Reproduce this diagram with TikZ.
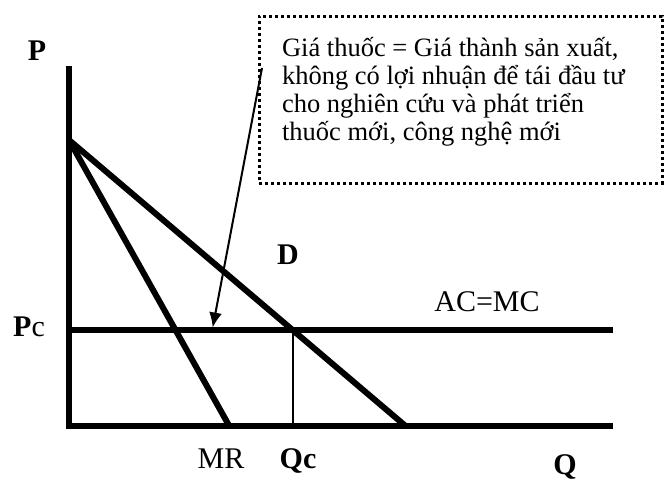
\documentclass[tikz,border=0pt]{standalone}
\usepackage{fontspec}
\setmainfont{Liberation Serif}
\usetikzlibrary{arrows.meta}

\tikzset{
  curve/.style={line width=6pt, line cap=butt},
  thinline/.style={line width=2pt},
  axislabel/.style={font=\fontsize{30}{34}\selectfont\bfseries, anchor=base, inner sep=0pt},
  curvelabel/.style={font=\fontsize{30}{34}\selectfont, anchor=base, inner sep=0pt},
  notebox/.style={draw, line width=3pt, dash pattern=on 3pt off 3pt, inner sep=0pt,
                  minimum width=403pt, minimum height=167pt},
}

\begin{document}
\begin{tikzpicture}[x=1pt, y=-1pt]
    % frame = reference size (671 x 483)
    \useasboundingbox (0,0) rectangle (671,483);

    % axes and key points
    \coordinate (top)    at (69,66);
    \coordinate (origin) at (69,425.5);
    \coordinate (qend)   at (613,425.5);
    \coordinate (pc)     at (69,329.5);
    \coordinate (pcend)  at (613,329.5);
    \coordinate (pmax)   at (69,140);
    \coordinate (dend)   at (405,425.5);
    \coordinate (mrend)  at (229,425.5);
    \coordinate (eq)     at (293,329.5);
    \coordinate (qc)     at (293,425.5);

    \draw[curve, line join=miter] (top) -- (origin) -- (qend);
    \draw[curve] (pc) -- (pcend);
    \draw[curve] (pmax) -- (dend);
    \draw[curve] (pmax) -- (mrend);
    \draw[thinline] (eq) -- (qc);

    % labels
    \node[axislabel] (plabel)  at (37,60) {P};
    \node[axislabel] (pclabel) at (29,336) {P\mdseries c};
    \node[axislabel] (dlabel)  at (288,264) {D};
    \node[axislabel] (qclabel) at (298,468) {Qc};
    \node[axislabel] (qlabel)  at (565,474) {Q};
    \node[curvelabel] (mrlabel) at (221,468) {MR};
    \node[curvelabel] (aclabel) at (487,311) {AC=MC};

    % note box with arrow to the Pc line
    \node[notebox] (note) at (460.5,99.5) {%
      \parbox[c][167pt][t]{357pt}{\fontsize{26.5}{28}\selectfont
        \rule{0pt}{40pt}Giá thuốc = Giá thành sản xuất,\\
        không có lợi nhuận để tái đầu tư\\
        cho nghiên cứu và phát triển\\
        thuốc mới, công nghệ mới}};
    \coordinate (tail) at (262,68);
    \coordinate (tip)  at (212.7,327.5);
    \draw[thinline, -{Latex[length=15pt, width=13pt]}] (tail) -- (tip);
\end{tikzpicture}
\end{document}
